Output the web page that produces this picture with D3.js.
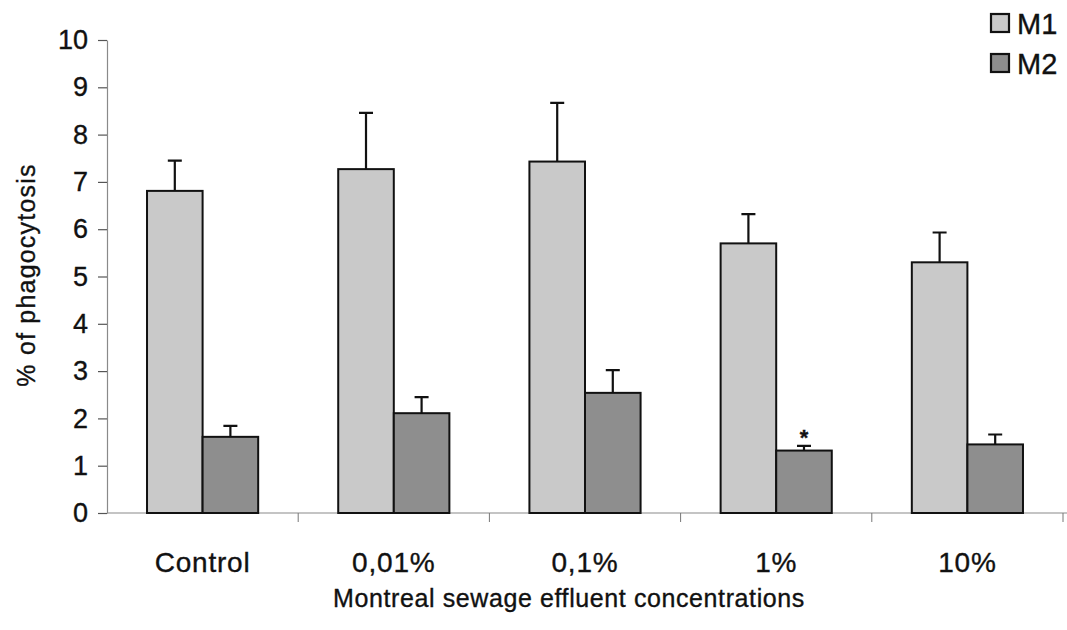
<!DOCTYPE html>
<html>
<head>
<meta charset="utf-8">
<script src="https://cdn.jsdelivr.net/npm/d3@7"></script>
<style>
  html, body { margin: 0; padding: 0; background: #fff; }
  svg { display: block; font-family: "Liberation Sans", Arial, sans-serif; }
  svg text { stroke: #111; stroke-width: 0.35px; }
</style>
</head>
<body>
<svg id="chart" width="1067" height="630"></svg>
<script>
// Phagocytosis (%) by macrophage subset across effluent concentrations
const categories = ["Control", "0,01%", "0,1%", "1%", "10%"];
const seriesNames = ["M1", "M2"];
const m1Values = [6.81, 7.27, 7.43, 5.70, 5.30];
const m1Errors = [0.64, 1.19, 1.24, 0.62, 0.63];
const m2Values = [1.61, 2.11, 2.54, 1.32, 1.45];
const m2Errors = [0.23, 0.34, 0.48, 0.10, 0.21];
const significant = [[], [], [], ["M2"], []];
const yTicks = [0, 1, 2, 3, 4, 5, 6, 7, 8, 9, 10];

const colors = { M1: "#c9c9c9", M2: "#8e8e8e" };

const svg = d3.select("#chart");
const margin = { left: 107, right: 4, top: 40, bottom: 117 };
const width = 1067, height = 630;

const x = d3.scaleBand()
  .domain(categories)
  .range([margin.left, width - margin.right])
  .paddingInner(0).paddingOuter(0);

const xs = d3.scaleBand()
  .domain(seriesNames)
  .range([0, x.bandwidth()])
  .paddingOuter(0.72).paddingInner(0);

const y = d3.scaleLinear().domain([0, 10]).range([height - margin.bottom, margin.top]);

const rows = categories.map((c, i) => ({
  category: c,
  values: [
    { key: "M1", value: m1Values[i], err: m1Errors[i] },
    { key: "M2", value: m2Values[i], err: m2Errors[i] }
  ],
  sig: significant[i]
}));

// y axis
const yAxis = svg.append("g")
  .attr("transform", `translate(${margin.left},0)`)
  .call(d3.axisLeft(y).tickValues(yTicks).tickSize(9).tickPadding(10).tickSizeOuter(0));
yAxis.select(".domain").attr("stroke", "#8a8a8a").attr("stroke-width", 1.2);
yAxis.selectAll(".tick line").attr("stroke", "#555").attr("stroke-width", 1.2);
yAxis.selectAll(".tick text")
  .attr("font-size", 27).attr("fill", "#111")
  .attr("font-family", "'Liberation Sans', Arial, sans-serif");

// x axis with ticks at category boundaries
const boundaries = categories.map(c => x(c)).concat([x(categories[categories.length - 1]) + x.bandwidth()]);
const xAxisG = svg.append("g").attr("transform", `translate(0,${y(0)})`);
xAxisG.append("line")
  .attr("x1", margin.left).attr("x2", width)
  .attr("stroke", "#8a8a8a").attr("stroke-width", 1.2);
xAxisG.selectAll("line.tick")
  .data(boundaries.slice(1))
  .join("line").attr("class", "tick")
  .attr("x1", d => d).attr("x2", d => d)
  .attr("y1", 0).attr("y2", 9)
  .attr("stroke", "#777").attr("stroke-width", 1);

xAxisG.selectAll("text.cat")
  .data(categories)
  .join("text").attr("class", "cat")
  .attr("x", d => x(d) + x.bandwidth() / 2)
  .attr("y", 59)
  .attr("text-anchor", "middle")
  .attr("font-size", 28)
  .attr("letter-spacing", 0.8)
  .attr("fill", "#111")
  .text(d => d);

// bars
const groups = svg.selectAll("g.group")
  .data(rows)
  .join("g").attr("class", "group")
  .attr("transform", d => `translate(${x(d.category)},0)`);

groups.selectAll("rect")
  .data(d => d.values)
  .join("rect")
  .attr("x", d => xs(d.key))
  .attr("y", d => y(d.value))
  .attr("width", xs.bandwidth())
  .attr("height", d => y(0) - y(d.value))
  .attr("fill", d => colors[d.key])
  .attr("stroke", "#111")
  .attr("stroke-width", 2);

// error bars (upper only)
const capHalf = 7;
groups.selectAll("path.err")
  .data(d => d.values)
  .join("path").attr("class", "err")
  .attr("d", d => {
    const cx = xs(d.key) + xs.bandwidth() / 2;
    const top = y(d.value + d.err);
    return `M${cx},${y(d.value)}V${top}M${cx - capHalf},${top}H${cx + capHalf}`;
  })
  .attr("fill", "none")
  .attr("stroke", "#111")
  .attr("stroke-width", 2.2);

// significance markers
groups.selectAll("text.sig")
  .data(d => d.values.filter(v => d.sig.includes(v.key)))
  .join("text").attr("class", "sig")
  .attr("x", d => xs(d.key) + xs.bandwidth() / 2)
  .attr("y", d => y(d.value + d.err) - 1)
  .attr("text-anchor", "middle")
  .attr("font-size", 22)
  .attr("font-weight", "bold")
  .attr("fill", "#111")
  .text("*");

// axis titles
svg.append("text")
  .attr("x", (margin.left + width) / 2 - 18)
  .attr("y", 607)
  .attr("text-anchor", "middle")
  .attr("font-size", 25)
  .attr("letter-spacing", 0.6)
  .attr("fill", "#111")
  .text("Montreal sewage effluent concentrations");

svg.append("text")
  .attr("transform", "translate(35,275) rotate(-90)")
  .attr("text-anchor", "middle")
  .attr("font-size", 25)
  .attr("letter-spacing", 1.2)
  .attr("fill", "#111")
  .text("% of phagocytosis");

// legend
const legend = svg.append("g").attr("transform", "translate(990,13)");
const li = legend.selectAll("g")
  .data(seriesNames)
  .join("g")
  .attr("transform", (d, i) => `translate(0,${i * 40})`);
li.append("rect")
  .attr("x", 1).attr("y", 1).attr("width", 18).attr("height", 18)
  .attr("fill", d => colors[d])
  .attr("stroke", "#111").attr("stroke-width", 2.2);
li.append("text")
  .attr("x", 27).attr("y", 21)
  .attr("font-size", 29)
  .attr("fill", "#111")
  .text(d => d);
</script>
</body>
</html>
